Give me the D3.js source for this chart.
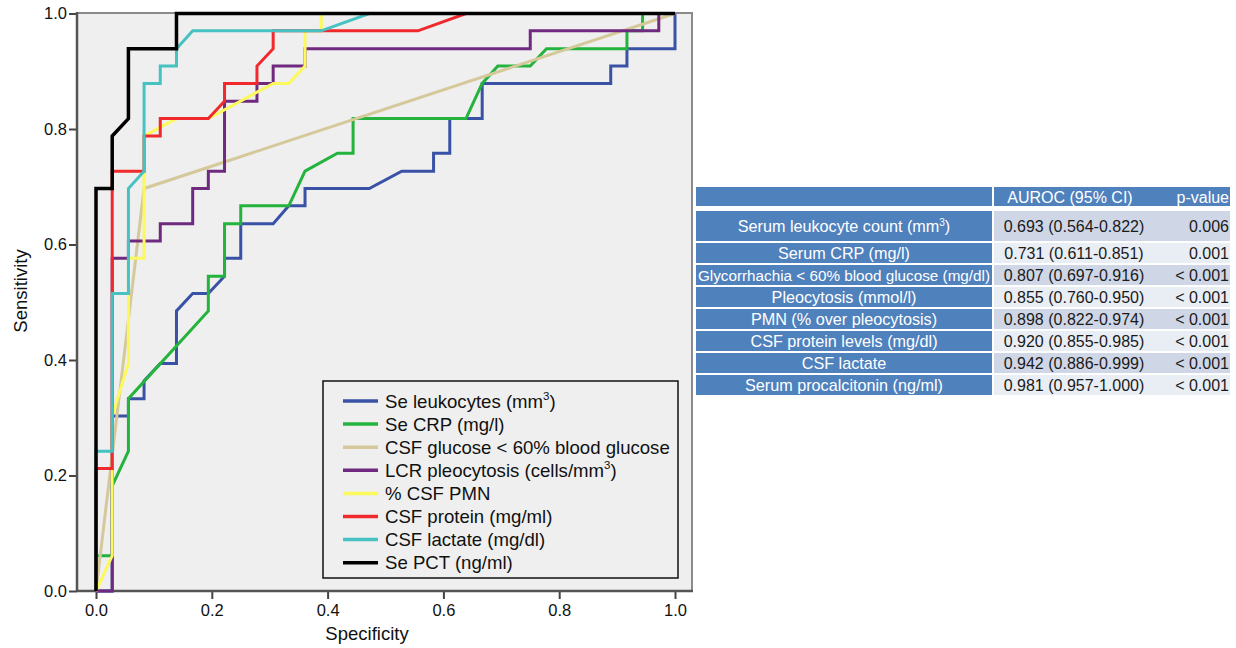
<!DOCTYPE html>
<html>
<head>
<meta charset="utf-8">
<script src="https://cdn.jsdelivr.net/npm/d3@7"></script>
<style>
  body { margin: 0; background: #fff; }
  svg { font-family: "Liberation Sans", Arial, Helvetica, sans-serif; }
</style>
</head>
<body>
<div id="my_dataviz"></div>
<script>

// ROC curves, points are [1 - specificity, sensitivity]
var seLeukocytes = [[0,0],[0.028,0],[0.028,0.303],[0.056,0.303],[0.056,0.333],[0.083,0.333],[0.083,0.364],[0.111,0.394],[0.139,0.394],[0.139,0.485],[0.167,0.515],[0.194,0.515],[0.222,0.545],[0.222,0.576],[0.25,0.576],[0.25,0.636],[0.306,0.636],[0.333,0.667],[0.361,0.667],[0.361,0.697],[0.472,0.697],[0.528,0.727],[0.583,0.727],[0.583,0.758],[0.611,0.758],[0.611,0.818],[0.667,0.818],[0.667,0.879],[0.889,0.879],[0.889,0.909],[0.917,0.909],[0.917,0.939],[1,0.939],[1,1]];
var seCrp = [[0,0],[0,0.061],[0.028,0.061],[0.028,0.182],[0.056,0.242],[0.056,0.333],[0.194,0.485],[0.194,0.545],[0.222,0.545],[0.222,0.636],[0.25,0.636],[0.25,0.667],[0.333,0.667],[0.361,0.727],[0.417,0.758],[0.444,0.758],[0.444,0.818],[0.639,0.818],[0.667,0.879],[0.694,0.909],[0.75,0.909],[0.778,0.939],[0.917,0.939],[0.917,0.970],[0.944,0.970],[0.944,1],[1,1]];
var csfGlucose = [[0,0],[0.083,0.697],[1,1]];
var lcrPleocytosis = [[0,0],[0.028,0],[0.028,0.576],[0.056,0.576],[0.056,0.606],[0.111,0.606],[0.111,0.636],[0.167,0.636],[0.167,0.697],[0.194,0.697],[0.194,0.727],[0.222,0.727],[0.222,0.848],[0.278,0.848],[0.278,0.879],[0.306,0.879],[0.306,0.909],[0.361,0.909],[0.361,0.939],[0.75,0.939],[0.75,0.970],[0.972,0.970],[0.972,1],[1,1]];
var csfPmn = [[0,0],[0.028,0.061],[0.028,0.303],[0.056,0.394],[0.056,0.576],[0.083,0.576],[0.083,0.788],[0.139,0.818],[0.194,0.818],[0.306,0.879],[0.333,0.879],[0.361,0.909],[0.361,0.970],[0.389,0.970],[0.389,1],[1,1]];
var csfProtein = [[0,0],[0,0.212],[0.028,0.212],[0.028,0.727],[0.083,0.727],[0.083,0.788],[0.111,0.788],[0.111,0.818],[0.194,0.818],[0.222,0.848],[0.222,0.879],[0.278,0.879],[0.278,0.909],[0.306,0.939],[0.306,0.970],[0.556,0.970],[0.639,1],[1,1]];
var csfLactate = [[0,0],[0,0.242],[0.028,0.242],[0.028,0.515],[0.056,0.515],[0.056,0.697],[0.083,0.727],[0.083,0.879],[0.111,0.879],[0.111,0.909],[0.139,0.909],[0.139,0.939],[0.167,0.970],[0.389,0.970],[0.472,1],[1,1]];
var sePct = [[0,0],[0,0.697],[0.028,0.697],[0.028,0.788],[0.056,0.818],[0.056,0.939],[0.139,0.939],[0.139,1],[1,1]];

var seriesData = [seLeukocytes, seCrp, csfGlucose, lcrPleocytosis, csfPmn, csfProtein, csfLactate, sePct];
// legend text: [before superscript, superscript, after]
var seriesNames = [["Se leukocytes (mm", "3", ")"], ["Se CRP (mg/l)", "", ""], ["CSF glucose < 60% blood glucose", "", ""],
  ["LCR pleocytosis (cells/mm", "3", ")"], ["% CSF PMN", "", ""], ["CSF protein (mg/ml)", "", ""],
  ["CSF lactate (mg/dl)", "", ""], ["Se PCT (ng/ml)", "", ""]];
var colors = ["#3a52a6", "#24b33c", "#d5c99b", "#6f2a80", "#fbf95c", "#f0292d", "#46c2c2", "#000000"];

var axisTicks = [0, 0.2, 0.4, 0.6, 0.8, 1.0];

// table
var tableLabels = [["Serum leukocyte count (mm", "3", ")"], ["Serum CRP (mg/l)", "", ""], ["Glycorrhachia < 60% blood glucose (mg/dl)", "", ""],
  ["Pleocytosis (mmol/l)", "", ""], ["PMN (% over pleocytosis)", "", ""], ["CSF protein levels (mg/dl)", "", ""],
  ["CSF lactate", "", ""], ["Serum procalcitonin (ng/ml)", "", ""]];
var aurocValues = ["0.693 (0.564-0.822)", "0.731 (0.611-0.851)", "0.807 (0.697-0.916)", "0.855 (0.760-0.950)",
  "0.898 (0.822-0.974)", "0.920 (0.855-0.985)", "0.942 (0.886-0.999)", "0.981 (0.957-1.000)"];
var pValues = ["0.006", "0.001", "< 0.001", "< 0.001", "< 0.001", "< 0.001", "< 0.001", "< 0.001"];


var svg = d3.select("#my_dataviz")
  .append("svg")
    .attr("width", 1236)
    .attr("height", 648);

var plot = {left: 77, right: 692, top: 13, bottom: 591};

var x = d3.scaleLinear().domain([0, 1]).range([96, 675]);
var y = d3.scaleLinear().domain([0, 1]).range([591, 13.5]);

// plot background
svg.append("rect")
  .attr("x", plot.left).attr("y", plot.top)
  .attr("width", plot.right - plot.left).attr("height", plot.bottom - plot.top)
  .attr("fill", "#efefef");

// top / right frame
svg.append("path")
  .attr("d", "M" + plot.left + "," + plot.top + "H" + plot.right + "V" + plot.bottom)
  .attr("fill", "none").attr("stroke", "#8a8a8a").attr("stroke-width", 2);

// axes
var yAxis = svg.append("g")
  .attr("transform", "translate(" + plot.left + ",0)")
  .call(d3.axisLeft(y).tickValues(axisTicks).tickFormat(d3.format(".1f")).tickSize(8).tickPadding(2));
var xAxis = svg.append("g")
  .attr("transform", "translate(0," + plot.bottom + ")")
  .call(d3.axisBottom(x).tickValues(axisTicks).tickFormat(d3.format(".1f")).tickSize(8).tickPadding(5));

[yAxis, xAxis].forEach(function(g) {
  g.select(".domain").remove();
  g.selectAll(".tick line").attr("stroke", "#444").attr("stroke-width", 2);
  g.selectAll(".tick text").attr("fill", "#111").style("font-size", "16.5px");
});

svg.append("line")
  .attr("x1", plot.left).attr("x2", plot.left).attr("y1", plot.top - 1).attr("y2", plot.bottom)
  .attr("stroke", "#555").attr("stroke-width", 2.5);
svg.append("line")
  .attr("x1", plot.left).attr("x2", plot.right + 1).attr("y1", plot.bottom).attr("y2", plot.bottom)
  .attr("stroke", "#555").attr("stroke-width", 2.5);

// axis titles
svg.append("text")
  .attr("x", 367).attr("y", 640)
  .attr("text-anchor", "middle")
  .style("font-size", "18.5px").attr("fill", "#111")
  .text("Specificity");
svg.append("text")
  .attr("transform", "translate(27,291) rotate(-90)")
  .attr("text-anchor", "middle")
  .style("font-size", "18.5px").attr("fill", "#111")
  .text("Sensitivity");

// ROC lines
var line = d3.line()
  .x(function(d) { return x(d[0]); })
  .y(function(d) { return y(d[1]); });

svg.selectAll("roc")
  .data(seriesData)
  .enter()
  .append("path")
    .attr("d", line)
    .attr("fill", "none")
    .attr("stroke", function(d, i) { return colors[i]; })
    .attr("stroke-width", function(d, i) { return i == 7 ? 3.5 : 3; });

// legend
var legend = svg.append("g");
legend.append("rect")
  .attr("x", 323).attr("y", 381).attr("width", 355).attr("height", 197)
  .attr("fill", "none").attr("stroke", "#111").attr("stroke-width", 1.5);

var rows = legend.selectAll("legrow")
  .data(seriesNames)
  .enter()
  .append("g")
    .attr("transform", function(d, i) { return "translate(0," + (401 + i * 23.1) + ")"; });

rows.append("line")
  .attr("x1", 343).attr("x2", 378)
  .attr("stroke", function(d, i) { return colors[i]; })
  .attr("stroke-width", 3.5);

function supText(sel, fontSize) {
  sel.each(function(d) {
    var t = d3.select(this);
    t.append("tspan").text(d[0]);
    if (d[1]) {
      t.append("tspan").attr("dy", -fontSize * 0.4).style("font-size", (fontSize * 0.62) + "px").text(d[1]);
      t.append("tspan").attr("dy", fontSize * 0.4).text(d[2]);
    }
  });
}

rows.append("text")
  .attr("x", 385).attr("y", 6.5)
  .style("font-size", "18.6px").attr("fill", "#111")
  .call(supText, 18.6);

// table
var tbl = {left: 696, mid: 994, midEnd: 992, right: 1230};
var rowTops = [211, 243, 265, 287, 309, 331, 353, 375];
var rowHeights = [30, 20, 20, 20, 20, 20, 20, 20];
var blue = "#4f81bd";

svg.append("rect").attr("x", tbl.left).attr("y", 187).attr("width", tbl.midEnd - tbl.left).attr("height", 19).attr("fill", blue);
svg.append("rect").attr("x", tbl.mid).attr("y", 187).attr("width", tbl.right - tbl.mid).attr("height", 19).attr("fill", blue);
svg.append("text").attr("x", 1070).attr("y", 202.5).attr("text-anchor", "middle")
  .style("font-size", "16px").attr("fill", "#fff").text("AUROC (95% CI)");
svg.append("text").attr("x", 1229).attr("y", 202.5).attr("text-anchor", "end")
  .style("font-size", "16px").attr("fill", "#fff").text("p-value");

var trow = svg.selectAll("trow")
  .data(tableLabels)
  .enter()
  .append("g")
    .attr("transform", function(d, i) { return "translate(0," + rowTops[i] + ")"; });

trow.append("rect")
  .attr("x", tbl.left).attr("width", tbl.midEnd - tbl.left)
  .attr("height", function(d, i) { return rowHeights[i]; })
  .attr("fill", blue);
trow.append("rect")
  .attr("x", tbl.mid).attr("width", tbl.right - tbl.mid)
  .attr("height", function(d, i) { return rowHeights[i]; })
  .attr("fill", function(d, i) { return i % 2 == 0 ? "#cfd6e6" : "#e9edf4"; });

trow.append("text")
  .attr("x", (tbl.left + tbl.midEnd) / 2)
  .attr("y", function(d, i) { return rowHeights[i] / 2 + 6; })
  .attr("text-anchor", "middle")
  .style("font-size", "16.2px").attr("fill", "#fff")
  .call(supText, 16.2)
  .each(function() {
    // shrink labels that do not fit the cell
    var w = this.getComputedTextLength(), room = tbl.midEnd - tbl.left - 4;
    if (w > room) d3.select(this).style("font-size", (16.2 * room / w) + "px");
  });

trow.append("text")
  .attr("x", 1074)
  .attr("y", function(d, i) { return rowHeights[i] / 2 + 6; })
  .attr("text-anchor", "middle")
  .style("font-size", "16px").attr("fill", "#1a1a1a")
  .text(function(d, i) { return aurocValues[i]; });

trow.append("text")
  .attr("x", 1229)
  .attr("y", function(d, i) { return rowHeights[i] / 2 + 6; })
  .attr("text-anchor", "end")
  .style("font-size", "16px").attr("fill", "#1a1a1a")
  .text(function(d, i) { return pValues[i]; });

</script>
</body>
</html>
